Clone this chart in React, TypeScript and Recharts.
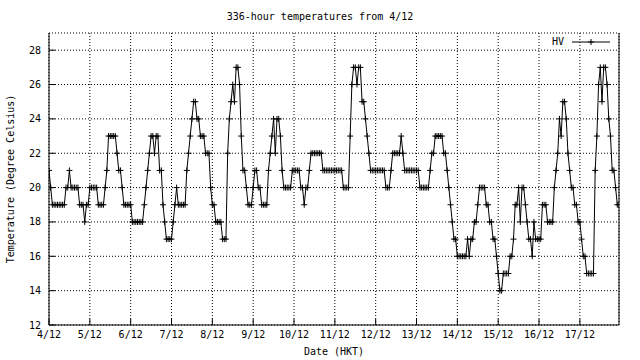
import React from 'react';
import { LineChart, Line, XAxis, YAxis, CartesianGrid } from 'recharts';

const chartTitle = '336-hour temperatures from 4/12';
const xTitle = 'Date (HKT)';
const yTitle = 'Temperature (Degree Celsius)';
const seriesName = 'HV';

const dayLabels = ['4/12', '5/12', '6/12', '7/12', '8/12', '9/12', '10/12', '11/12', '12/12', '13/12', '14/12', '15/12', '16/12', '17/12'];
const yTicks = [12, 14, 16, 18, 20, 22, 24, 26, 28];

// hourly temperatures (degree Celsius), one row per day
const day04 = [21, 20, 19, 19, 19, 19, 19, 19, 19, 19, 20, 20, 21, 20, 20, 20, 20, 20, 19, 19, 19, 18, 19, 19];
const day05 = [20, 20, 20, 20, 20, 19, 19, 19, 19, 20, 21, 23, 23, 23, 23, 23, 22, 21, 21, 20, 19, 19, 19, 19];
const day06 = [19, 18, 18, 18, 18, 18, 18, 18, 19, 20, 21, 22, 23, 23, 22, 23, 23, 21, 21, 19, 18, 17, 17, 17];
const day07 = [17, 18, 19, 20, 19, 19, 19, 19, 19, 21, 22, 23, 24, 25, 25, 24, 24, 23, 23, 23, 22, 22, 22, 20];
const day08 = [19, 19, 18, 18, 18, 18, 17, 17, 17, 22, 24, 25, 26, 25, 27, 27, 26, 23, 21, 21, 20, 19, 19, 19];
const day09 = [20, 21, 21, 20, 20, 19, 19, 19, 19, 21, 22, 23, 24, 22, 24, 24, 23, 21, 20, 20, 20, 20, 20, 21];
const day10 = [21, 21, 21, 21, 20, 20, 19, 20, 20, 21, 22, 22, 22, 22, 22, 22, 22, 21, 21, 21, 21, 21, 21, 21];
const day11 = [21, 21, 21, 21, 21, 20, 20, 20, 20, 23, 26, 27, 27, 26, 27, 27, 25, 25, 24, 23, 22, 21, 21, 21];
const day12 = [21, 21, 21, 21, 21, 21, 20, 20, 20, 21, 22, 22, 22, 22, 22, 23, 22, 21, 21, 21, 21, 21, 21, 21];
const day13 = [21, 21, 20, 20, 20, 20, 20, 20, 21, 22, 22, 23, 23, 23, 23, 23, 22, 22, 21, 20, 19, 18, 17, 17];
const day14 = [16, 16, 16, 16, 16, 16, 17, 16, 17, 17, 18, 18, 19, 20, 20, 20, 20, 19, 19, 18, 18, 17, 17, 16];
const day15 = [15, 14, 14, 15, 15, 15, 15, 16, 16, 17, 19, 19, 20, 18, 20, 20, 19, 18, 17, 17, 16, 18, 17, 17];
const day16 = [17, 17, 19, 19, 19, 18, 18, 18, 18, 20, 21, 22, 24, 23, 25, 25, 24, 22, 21, 20, 20, 19, 19, 18];
const day17 = [18, 17, 16, 16, 15, 15, 15, 15, 15, 21, 23, 26, 27, 25, 27, 27, 26, 24, 23, 21, 21, 20, 19, 19];

const hourlyTemps = [
  ...day04, ...day05, ...day06, ...day07, ...day08, ...day09, ...day10,
  ...day11, ...day12, ...day13, ...day14, ...day15, ...day16, ...day17,
];

const data = hourlyTemps.map((t, i) => ({ h: i, t }));
const xTicks = dayLabels.map((_, i) => i * 24);

const FONT = '"DejaVu Sans Mono", "Liberation Mono", monospace';
const tickStyle = { fontSize: 10, fill: '#000', fontFamily: FONT };

const Cross = (props: any) => {
  const { cx, cy, index } = props;
  if (cx == null || cy == null) return <g key={`d${index}`} />;
  return (
    <path
      key={`d${index}`}
      d={`M${cx - 3},${cy}H${cx + 3}M${cx},${cy - 3}V${cy + 3}`}
      stroke="#000"
      strokeWidth={1}
      fill="none"
    />
  );
};

export default function App() {
  return (
    <div style={{ position: 'absolute', left: 0, top: 0, width: 640, height: 360, background: '#fff' }}>
      <LineChart
        width={640}
        height={360}
        data={data}
        margin={{ top: 33, right: 0, left: 0, bottom: 0 }}
      >
        <CartesianGrid stroke="#000" strokeDasharray="1 2" strokeWidth={1} />
        <XAxis
          dataKey="h"
          type="number"
          domain={[0, 335]}
          ticks={xTicks}
          tickFormatter={(v: number) => dayLabels[Math.round(v / 24)] ?? ''}
          tick={tickStyle}
          tickSize={-6}
          tickMargin={12}
          height={35}
          axisLine={{ stroke: '#000' }}
          tickLine={{ stroke: '#000' }}
          interval={0}
          allowDataOverflow
        />
        <XAxis
          xAxisId="top"
          orientation="top"
          dataKey="h"
          type="number"
          domain={[0, 335]}
          ticks={xTicks}
          tickFormatter={() => ''}
          tickSize={-6}
          height={0}
          axisLine={{ stroke: '#000' }}
          tickLine={{ stroke: '#000' }}
          interval={0}
        />
        <YAxis
          type="number"
          domain={[12, 29]}
          ticks={yTicks}
          tick={tickStyle}
          tickSize={-6}
          tickMargin={14}
          width={49}
          axisLine={{ stroke: '#000' }}
          tickLine={{ stroke: '#000' }}
          interval={0}
          allowDataOverflow
        />
        <YAxis
          yAxisId="right"
          orientation="right"
          type="number"
          domain={[12, 29]}
          ticks={yTicks}
          tickFormatter={() => ''}
          tickSize={-6}
          width={21}
          axisLine={{ stroke: '#000' }}
          tickLine={{ stroke: '#000' }}
          interval={0}
        />
        <Line
          type="linear"
          dataKey="t"
          name={seriesName}
          stroke="#000"
          strokeWidth={1}
          dot={Cross}
          activeDot={false}
          isAnimationActive={false}
        />
      </LineChart>
      <div
        style={{
          position: 'absolute', top: 11, left: 0, width: 640, textAlign: 'center',
          fontFamily: FONT, fontSize: 10, color: '#000',
        }}
      >
        {chartTitle}
      </div>
      <div style={{ position: 'absolute', left: 10, top: 179, width: 0, height: 0 }}>
        <div
          style={{
            position: 'absolute', left: 0, top: 0, transform: 'translate(-50%, -50%) rotate(-90deg)',
            whiteSpace: 'nowrap', fontFamily: FONT, fontSize: 10, color: '#000',
          }}
        >
          {yTitle}
        </div>
      </div>
      <div
        style={{
          position: 'absolute', top: 346, left: 49, width: 570, textAlign: 'center',
          fontFamily: FONT, fontSize: 10, color: '#000',
        }}
      >
        {xTitle}
      </div>
      <div
        style={{
          position: 'absolute', top: 36, left: 552, display: 'flex', alignItems: 'center',
          fontFamily: FONT, fontSize: 10, color: '#000', lineHeight: '12px',
        }}
      >
        <span style={{ marginRight: 8 }}>{seriesName}</span>
        <svg width={40} height={8} style={{ display: 'block' }}>
          <line x1={0} y1={4} x2={38} y2={4} stroke="#000" strokeWidth={1} />
          <path d="M16,4H22M19,1V7" stroke="#000" strokeWidth={1} />
        </svg>
      </div>
    </div>
  );
}
